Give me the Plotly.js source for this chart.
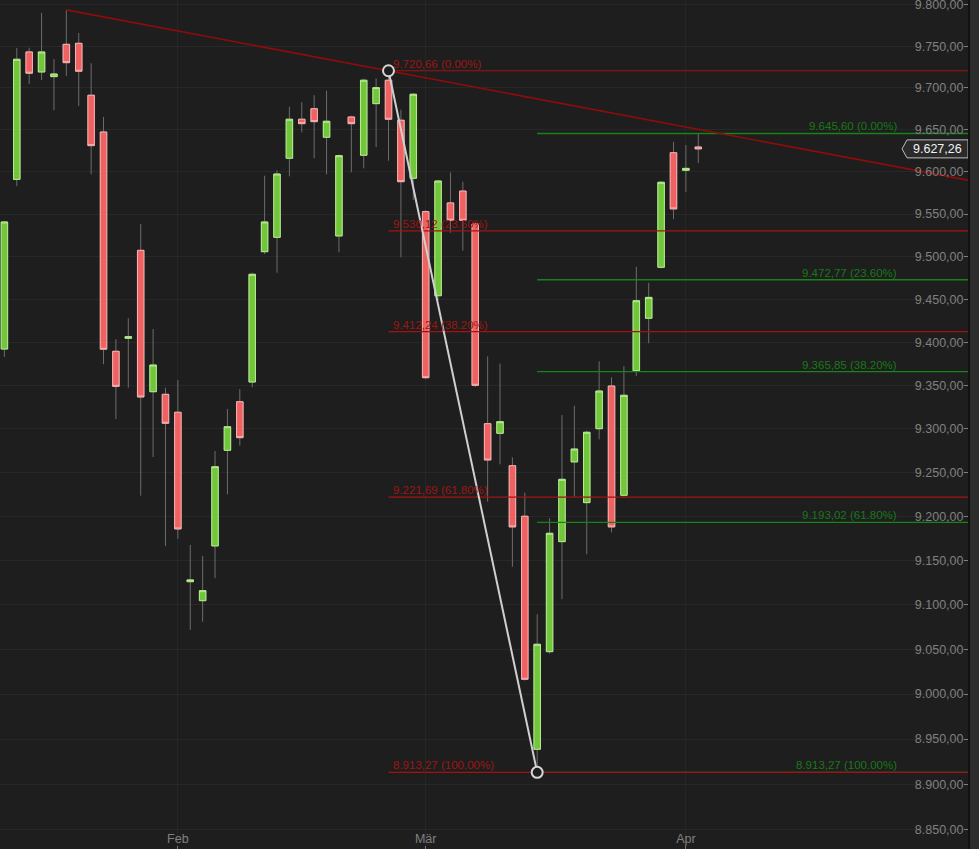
<!DOCTYPE html>
<html><head><meta charset="utf-8">
<script src="https://cdn.plot.ly/plotly-3.0.1.min.js"></script>
<style>html,body{margin:0;padding:0;background:#2d2d2d;overflow:hidden}#chart{width:979px;height:849px}</style>
</head><body><div id="chart"></div>
<script>
// ---- data (DAX daily candles) ----
const dates = ['2014-01-14','2014-01-15','2014-01-16','2014-01-17','2014-01-20','2014-01-21','2014-01-22','2014-01-23','2014-01-24','2014-01-27','2014-01-28','2014-01-29','2014-01-30','2014-01-31',
'2014-02-03','2014-02-04','2014-02-05','2014-02-06','2014-02-07','2014-02-10','2014-02-11','2014-02-12','2014-02-13','2014-02-14','2014-02-17','2014-02-18','2014-02-19','2014-02-20','2014-02-21','2014-02-24','2014-02-25','2014-02-26','2014-02-27','2014-02-28',
'2014-03-03','2014-03-04','2014-03-05','2014-03-06','2014-03-07','2014-03-10','2014-03-11','2014-03-12','2014-03-13','2014-03-14','2014-03-17','2014-03-18','2014-03-19','2014-03-20','2014-03-21','2014-03-24','2014-03-25','2014-03-26','2014-03-27','2014-03-28','2014-03-31',
'2014-04-01','2014-04-02'];
const openP  = [9392.0,9591.0,9743.3,9719.2,9713.6,9752.5,9753.7,9691.3,9647.4,9389.4,9404.5,9507.3,9342.6,9339.6,
9318.9,9125.8,9104.4,9166.2,9275.2,9331.1,9353.8,9505.7,9522.6,9616.1,9662.6,9675.2,9641.1,9524.2,9665.3,9619.7,9681.2,9709.3,9661.4,9592.3,
9552.9,9454.1,9563.2,9577.2,9538.3,9305.8,9294.7,9257.6,9199.9,8938.7,9047.2,9171.1,9261.9,9215.4,9300.0,9349.2,9223.8,9366.9,9427.8,9487.4,9622.7,
9601.8,9629.5];
const highP  = [9542.0,9748.0,9748.4,9790.3,9734.5,9794.05,9766.2,9729.7,9665.3,9403.4,9427.8,9538.3,9415.3,9347.2,
9356.1,9167.3,9154.9,9274.4,9322.7,9345.7,9481.0,9595.4,9601.8,9677.6,9682.9,9691.3,9696.8,9620.5,9666.8,9711.0,9711.5,9720.66,9674.0,9694.0,
9554.5,9590.5,9599.4,9588.3,9540.0,9383.6,9375.1,9267.1,9226.8,9089.1,9197.6,9315.8,9326.5,9297.8,9377.8,9359.3,9372.4,9488.1,9469.3,9589.0,9635.5,
9631.9,9645.6];
const lowP   = [9383.0,9583.0,9704.8,9709.6,9673.3,9714.4,9678.5,9597.0,9374.4,9311.2,9347.2,9223.3,9267.5,9166.2,
9174.5,9071.5,9080.8,9129.7,9224.9,9280.5,9347.7,9502.9,9481.0,9594.7,9647.0,9616.1,9597.0,9505.0,9599.4,9604.2,9629.5,9613.2,9499.1,9566.7,
9357.0,9449.0,9528.0,9507.0,9348.0,9216.5,9259.2,9142.8,9015.0,8913.27,9045.0,9106.0,9222.2,9156.8,9287.8,9181.7,9222.0,9360.8,9398.7,9486.0,9543.9,
9575.8,9610.5];
const closeP = [9540.7,9734.5,9717.7,9743.3,9716.8,9730.4,9720.1,9631.1,9391.8,9348.8,9406.4,9336.5,9373.5,9306.2,
9185.5,9127.8,9115.7,9256.4,9302.3,9289.7,9479.2,9540.7,9597.4,9662.6,9657.3,9659.7,9660.2,9619.2,9657.3,9709.3,9700.4,9662.6,9588.3,9692.5,
9358.8,9589.1,9542.7,9542.7,9350.0,9264.1,9308.1,9187.8,9016.4,9055.5,9180.6,9242.0,9276.7,9295.9,9343.4,9187.8,9338.5,9448.3,9452.2,9587.6,9556.1,
9604.1,9627.26];

const monthTickDates = ['2014-02-03','2014-03-03','2014-04-01'];
const monthTickText  = ['Feb','Mär','Apr'];
const yTickVals = [8850,8900,8950,9000,9050,9100,9150,9200,9250,9300,9350,9400,9450,9500,9550,9600,9650,9700,9750,9800];

// trend line anchors (Jan 21 high, Feb 26 high)
const trendDates  = ['2014-01-21','2014-02-26'];
const trendPrices = [9794.05, 9720.66];

// Fibonacci retracement (red: Feb 26 high -> Mar 14 low)
const redFibStart  = '2014-02-26';
const redFibEnd    = '2014-03-14';
const redLevels    = [9720.66, 9530.12, 9412.24, 9221.69, 8913.27];
const redPct       = ['0.00%','23.60%','38.20%','61.80%','100.00%'];
// Fibonacci retracement (green: Mar 14 low -> Apr 2 high)
const greenFibStart = '2014-03-14';
const greenLevels  = [9645.60, 9472.77, 9365.85, 9193.02, 8913.27];
const greenPct     = ['0.00%','23.60%','38.20%','61.80%','100.00%'];

const lastPrice = 9627.26;

// ---- build ----
const X_LEFT = -0.355, X_RIGHT = 77.85, X_FAR = 82;
const xi = dates.map((d,i)=>i);
const idx = d => dates.indexOf(d);
const de = v => { const p = v.toFixed(2).split('.'); return p[0].replace(/\B(?=(\d{3})+(?!\d))/g,'.') + ',' + p[1]; };

const bodyHigh = openP.map((o,i)=>Math.max(o,closeP[i]));
const bodyLow  = openP.map((o,i)=>Math.min(o,closeP[i]));

const wickColor = '#6c6c6c';
const traces = [];
traces.push({type:'candlestick', x:xi, open:openP, high:highP, low:lowP, close:closeP,
  increasing:{line:{color:wickColor,width:1},fillcolor:wickColor},
  decreasing:{line:{color:wickColor,width:1},fillcolor:wickColor},
  whiskerwidth:0, hoverinfo:'skip'});
traces.push({type:'candlestick', x:xi, open:openP, high:bodyHigh, low:bodyLow, close:closeP,
  increasing:{line:{color:'#b6ee8e',width:1},fillcolor:'#72c63c'},
  decreasing:{line:{color:'#f7b2b2',width:1},fillcolor:'#f06262'},
  whiskerwidth:0, hoverinfo:'skip'});

function levelTrace(startIdx, levels, color, width){
  const x=[], y=[];
  levels.forEach(l=>{ x.push(startIdx, X_FAR, null); y.push(l, l, null); });
  return {type:'scatter', mode:'lines', x, y, line:{color, width}, hoverinfo:'skip', connectgaps:false};
}
traces.push(levelTrace(idx(greenFibStart), greenLevels, '#168416', 1.3));
traces.push(levelTrace(idx(redFibStart), redLevels, '#a31212', 1.2));

// trend line extended to the right edge
const t0 = idx(trendDates[0]), t1 = idx(trendDates[1]);
const lg0 = Math.log10(trendPrices[0]), lg1 = Math.log10(trendPrices[1]);
const slope = (lg1-lg0)/(t1-t0);
traces.push({type:'scatter', mode:'lines', x:[t0, X_FAR], y:[trendPrices[0], Math.pow(10, lg0 + slope*(X_FAR-t0))],
  line:{color:'#8e0c0c', width:1.6}, hoverinfo:'skip'});

// fib anchor line with circles
traces.push({type:'scatter', mode:'lines+markers', x:[idx(redFibStart), idx(redFibEnd)], y:[redLevels[0], redLevels[4]],
  line:{color:'#cfcfcf', width:2}, marker:{size:11, color:'#1e1e1e', line:{color:'#d6d6d6', width:2}}, hoverinfo:'skip', cliponaxis:false});

const annotations = [];
redLevels.forEach((l,i)=>annotations.push({xref:'x', yref:'y', x:idx(redFibStart), y:Math.log10(l), xanchor:'left', yanchor:'middle',
  xshift:2, yshift:7, showarrow:false, text:de(l)+' ('+redPct[i]+')', font:{size:11.5, color:'#9e1515'}}));
greenLevels.forEach((l,i)=>annotations.push({xref:'paper', yref:'y', x:1, y:Math.log10(l), xanchor:'right', yanchor:'middle',
  xshift:-70, yshift:7, showarrow:false, text:de(l)+' ('+greenPct[i]+')', font:{size:11.5, color:'#187818'}}));
annotations.push({xref:'paper', yref:'y', x:1, y:Math.log10(lastPrice), xanchor:'center', yanchor:'middle', xshift:-31.5,
  showarrow:false, text:de(lastPrice), font:{size:12.5, color:'#f2f2f2'}});

const layout = {
  width:979, height:849, margin:{l:0, r:10, t:0, b:0},
  paper_bgcolor:'#2d2d2d', plot_bgcolor:'#1e1e1e',
  separators:',.', showlegend:false, hovermode:false, dragmode:false,
  boxmode:'overlay', boxgap:0.25,
  font:{family:'"Liberation Sans", Arial, sans-serif', color:'#808080', size:12.5},
  xaxis:{type:'linear', range:[X_LEFT, X_RIGHT], tickmode:'array', tickvals:monthTickDates.map(idx), ticktext:monthTickText,
    ticks:'inside', ticklen:3, tickcolor:'#777', ticklabelposition:'inside', ticklabeloverflow:'allow', showgrid:true, gridcolor:'#262626',
    zeroline:false, showline:false, rangeslider:{visible:false}, tickfont:{size:12.5, color:'#808080'}},
  yaxis:{type:'log', range:[3.945923, 3.991494], side:'right', tickmode:'array', tickvals:yTickVals, tickformat:',.2f',
    ticks:'inside', ticklen:5, tickcolor:'#808080', ticklabelposition:'inside', ticklabeloverflow:'allow', showgrid:true, gridcolor:'#282828',
    zeroline:false, showline:false, tickfont:{size:12.5, color:'#808080'}},
  shapes:[
    {type:'path', xref:'paper', yref:'y', xsizemode:'pixel', ysizemode:'pixel', xanchor:1, yanchor:lastPrice,
     path:'M -67 0 L -62 -9 L -1 -9 L -1 9 L -62 9 Z', fillcolor:'#2b2b2b', line:{color:'#bdbdbd', width:1}, layer:'above'},
    {type:'line', xref:'paper', yref:'paper', x0:1, x1:1, y0:0, y1:1, line:{color:'#121212', width:2}, layer:'above'}
  ],
  annotations
};
Plotly.newPlot('chart', traces, layout, {staticPlot:true, displayModeBar:false});
</script></body></html>
